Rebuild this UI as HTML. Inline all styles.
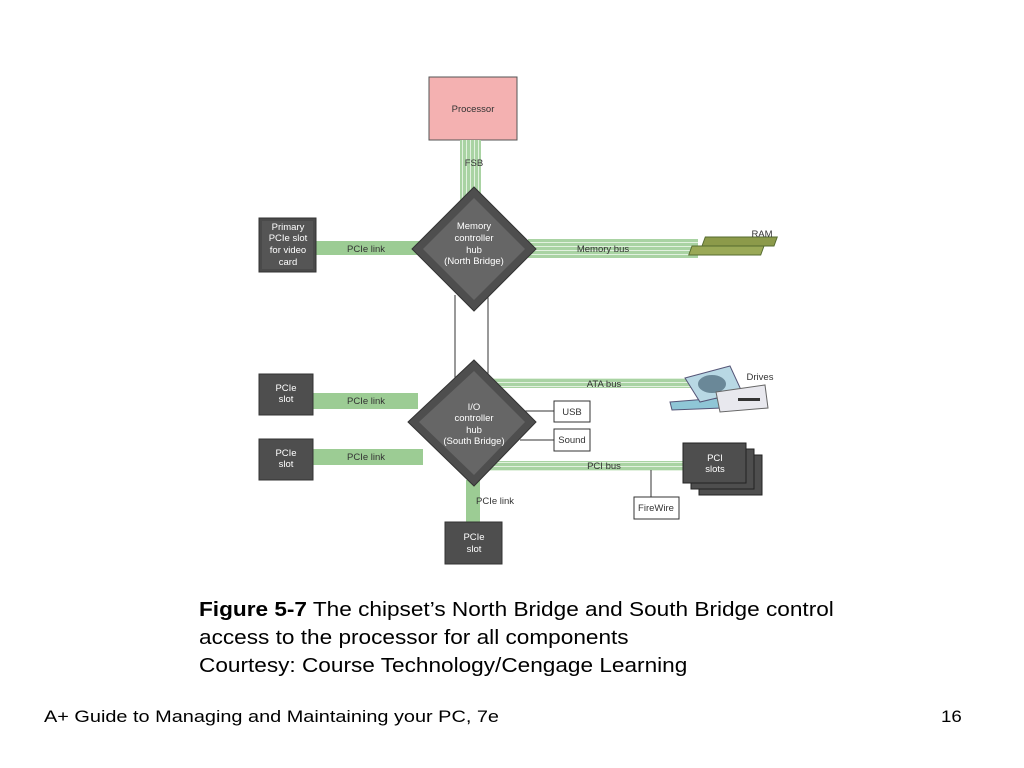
<!DOCTYPE html>
<html><head><style>
body{margin:0;width:1024px;height:768px;background:#fff;overflow:hidden;font-family:"Liberation Sans",sans-serif;position:relative}
.t{position:absolute;color:#000;transform-origin:0 0;white-space:nowrap}
</style></head><body>
<svg width="1024" height="768" style="position:absolute;left:0;top:0" font-family="Liberation Sans, sans-serif">
<defs>
<pattern id="st" width="4" height="4" patternUnits="userSpaceOnUse"><rect width="4" height="4" fill="#a9d3a3"/><rect y="2" width="4" height="1" fill="#e2f1df"/></pattern>
<pattern id="sv" width="4" height="4" patternUnits="userSpaceOnUse"><rect width="4" height="4" fill="#a9d3a3"/><rect x="2" width="1" height="4" fill="#e2f1df"/></pattern>
</defs>
<rect x="429" y="77" width="88" height="63" fill="#f4b1b1" stroke="#555"/>
<text x="473" y="112" font-size="9.5" text-anchor="middle" fill="#333">Processor</text>
<rect x="460" y="140" width="21" height="60" fill="url(#sv)"/>
<text x="474" y="166" font-size="9.5" text-anchor="middle" fill="#333">FSB</text>
<rect x="316" y="241" width="104" height="14" fill="#9ccc94"/>
<text x="366" y="252" font-size="9.5" text-anchor="middle" fill="#333">PCIe link</text>
<rect x="528" y="239" width="170" height="19" fill="url(#st)"/>
<text x="603" y="252" font-size="9.5" text-anchor="middle" fill="#333">Memory bus</text>
<line x1="455" y1="295" x2="455" y2="385" stroke="#333"/>
<line x1="488" y1="295" x2="488" y2="385" stroke="#333"/>
<rect x="259" y="218" width="57" height="54" fill="#4a4a4a" stroke="#333"/>
<rect x="262" y="221" width="51" height="48" fill="#555"/>
<text font-size="9.5" fill="#fff" text-anchor="middle"><tspan x="288" y="230">Primary</tspan><tspan x="288" y="241">PCIe slot</tspan><tspan x="288" y="253">for video</tspan><tspan x="288" y="265">card</tspan></text>
<polygon points="474,187 536,249 474,311 412,249" fill="#4e4e4e" stroke="#333"/>
<polygon points="474,198 525,249 474,300 423,249" fill="#666"/>
<text font-size="9.5" fill="#fff" text-anchor="middle"><tspan x="474" y="229">Memory</tspan><tspan x="474" y="241">controller</tspan><tspan x="474" y="253">hub</tspan><tspan x="474" y="264">(North Bridge)</tspan></text>
<g transform="translate(688,246) skewX(-20)">
<rect x="14" y="-9" width="72" height="9" fill="#8c9a4a" stroke="#556b2f"/>
<rect x="4" y="0" width="72" height="9" fill="#9aa957" stroke="#556b2f"/>
</g>
<text x="762" y="237" font-size="9.5" text-anchor="middle" fill="#333">RAM</text>
<rect x="313" y="393" width="105" height="16" fill="#9ccc94"/>
<text x="366" y="404" font-size="9.5" text-anchor="middle" fill="#333">PCIe link</text>
<rect x="313" y="449" width="110" height="16" fill="#9ccc94"/>
<text x="366" y="460" font-size="9.5" text-anchor="middle" fill="#333">PCIe link</text>
<rect x="488" y="378" width="205" height="10" fill="url(#st)"/>
<text x="604" y="387" font-size="9.5" text-anchor="middle" fill="#333">ATA bus</text>
<rect x="490" y="461" width="200" height="10" fill="url(#st)"/>
<text x="604" y="469" font-size="9.5" text-anchor="middle" fill="#333">PCI bus</text>
<rect x="466" y="480" width="14" height="43" fill="#9ccc94"/>
<text x="476" y="504" font-size="9.5" fill="#333">PCIe link</text>
<line x1="518" y1="411" x2="554" y2="411" stroke="#333"/>
<line x1="520" y1="440" x2="554" y2="440" stroke="#333"/>
<line x1="651" y1="470" x2="651" y2="497" stroke="#333"/>
<rect x="554" y="401" width="36" height="21" fill="#fff" stroke="#333"/>
<text x="572" y="415" font-size="9.5" text-anchor="middle" fill="#333">USB</text>
<rect x="554" y="429" width="36" height="22" fill="#fff" stroke="#333"/>
<text x="572" y="443" font-size="9.5" text-anchor="middle" fill="#333">Sound</text>
<rect x="634" y="497" width="45" height="22" fill="#fff" stroke="#333"/>
<text x="656" y="511" font-size="9.5" text-anchor="middle" fill="#333">FireWire</text>
<rect x="699" y="455" width="63" height="40" fill="#4e4e4e" stroke="#222"/>
<rect x="691" y="449" width="63" height="40" fill="#4e4e4e" stroke="#222"/>
<rect x="683" y="443" width="63" height="40" fill="#4e4e4e" stroke="#222"/>
<text font-size="9.5" fill="#fff" text-anchor="middle"><tspan x="715" y="461">PCI</tspan><tspan x="715" y="472">slots</tspan></text>
<rect x="259" y="374" width="54" height="41" fill="#4e4e4e" stroke="#333"/>
<text font-size="9.5" fill="#fff" text-anchor="middle"><tspan x="286" y="391">PCIe</tspan><tspan x="286" y="402">slot</tspan></text>
<rect x="259" y="439" width="54" height="41" fill="#4e4e4e" stroke="#333"/>
<text font-size="9.5" fill="#fff" text-anchor="middle"><tspan x="286" y="456">PCIe</tspan><tspan x="286" y="467">slot</tspan></text>
<rect x="445" y="522" width="57" height="42" fill="#4e4e4e" stroke="#333"/>
<text font-size="9.5" fill="#fff" text-anchor="middle"><tspan x="474" y="540">PCIe</tspan><tspan x="474" y="552">slot</tspan></text>
<polygon points="474,360 536,422 474,486 408,422" fill="#4e4e4e" stroke="#333"/>
<polygon points="474,371 525,422 474,475 419,422" fill="#666"/>
<text font-size="9.5" fill="#fff" text-anchor="middle"><tspan x="474" y="410">I/O</tspan><tspan x="474" y="421">controller</tspan><tspan x="474" y="433">hub</tspan><tspan x="474" y="444">(South Bridge)</tspan></text>
<polygon points="670,402 720,398 722,408 672,410" fill="#8fc6d6" stroke="#557"/>
<polygon points="685,378 730,366 742,392 700,402" fill="#b8d8e4" stroke="#557"/>
<ellipse cx="712" cy="384" rx="14" ry="9" fill="#6a8898"/>
<polygon points="716,392 765,385 768,408 720,412" fill="#e8e8ee" stroke="#666"/>
<rect x="738" y="398" width="22" height="3" fill="#333"/>
<text x="760" y="380" font-size="9.5" text-anchor="middle" fill="#333">Drives</text>
</svg>
<div class="t" style="left:199px;top:596px;font-size:20px;line-height:28px;transform:scaleX(1.13)">
<b>Figure 5-7</b> The chipset’s North Bridge and South Bridge control<br>access to the processor for all components<br>Courtesy: Course Technology/Cengage Learning</div>
<div class="t" style="left:44px;top:707px;font-size:17px;transform:scaleX(1.17)">A+ Guide to Managing and Maintaining your PC, 7e</div>
<div class="t" style="left:941px;top:707px;font-size:17px;transform:scaleX(1.1)">16</div>
</body></html>
